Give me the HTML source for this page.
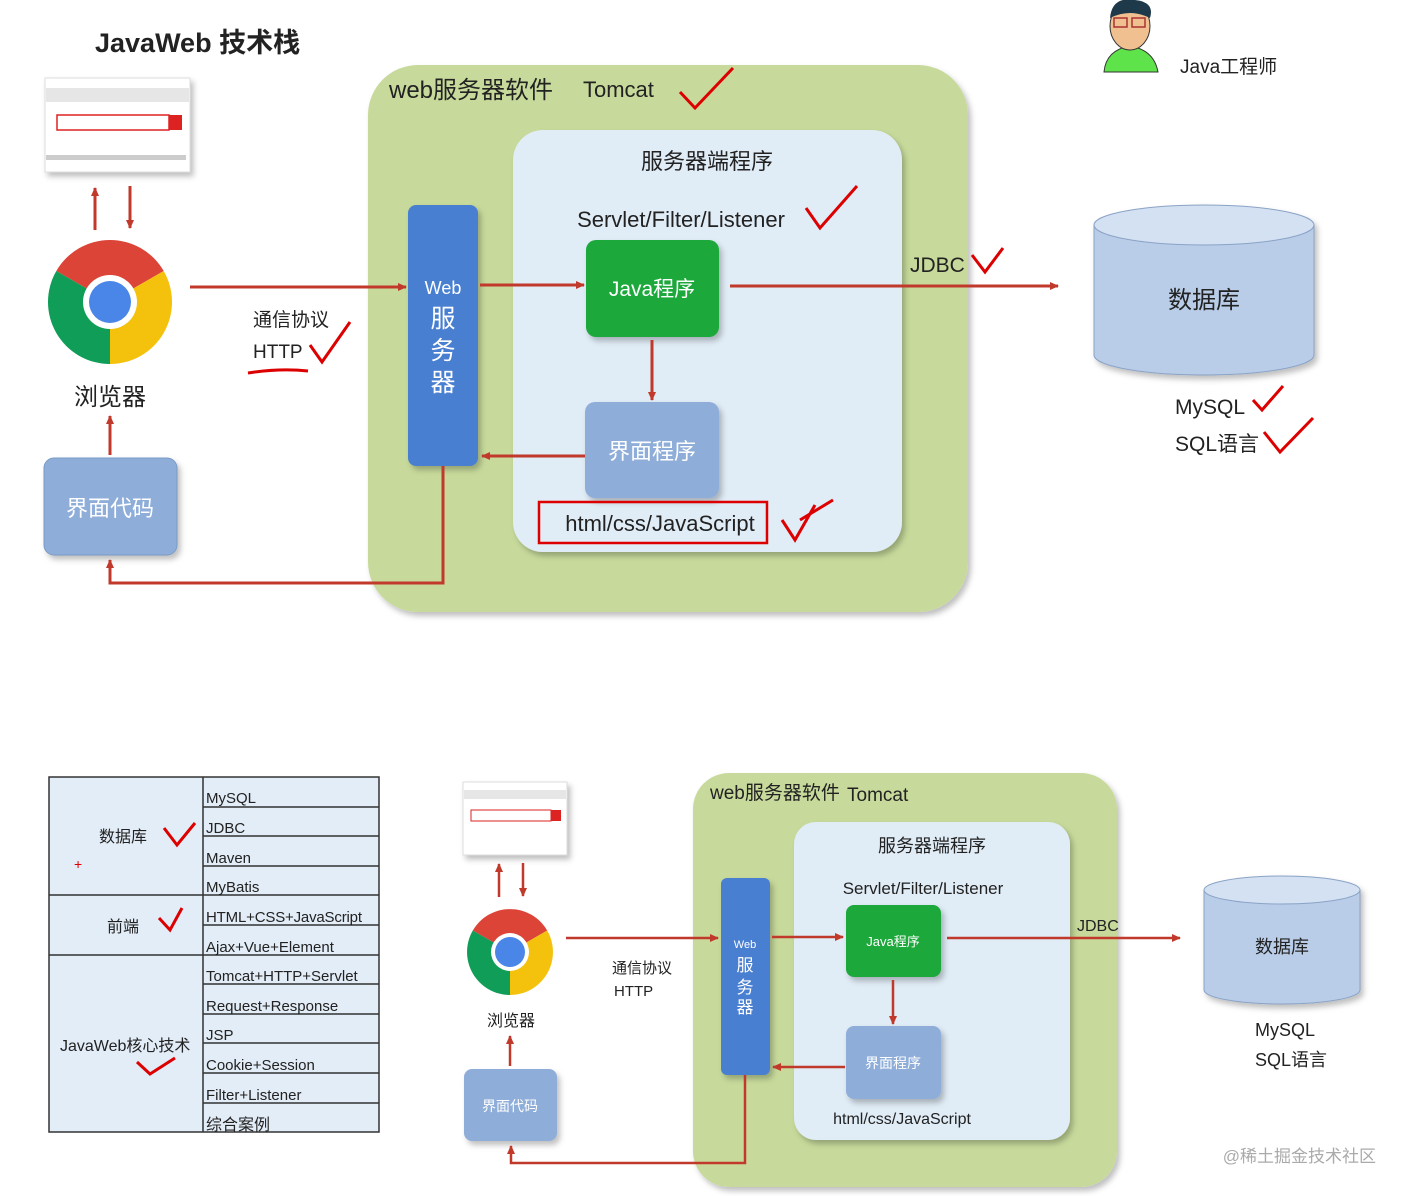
<!DOCTYPE html>
<html><head><meta charset="utf-8"><style>
html,body{margin:0;padding:0;background:#fff;}
svg{display:block;}
text{font-family:"Liberation Sans","Noto Sans CJK SC",sans-serif;}
</style></head><body>
<svg width="1407" height="1196" viewBox="0 0 1407 1196" xmlns="http://www.w3.org/2000/svg">
<defs>
<marker id="ar" markerWidth="10" markerHeight="10" refX="8" refY="5" orient="auto" markerUnits="userSpaceOnUse"><path d="M0,1 L9,5 L0,9 z" fill="#c0392b"/></marker>
<filter id="sh" x="-10%" y="-10%" width="130%" height="130%"><feDropShadow dx="3" dy="4" stdDeviation="3" flood-color="#000" flood-opacity="0.25"/></filter>
</defs>

<text x="95" y="52" font-size="27" font-weight="bold" fill="#222">JavaWeb 技术栈</text>

<g filter="url(#sh)">
<rect x="45" y="78" width="145" height="94" fill="#fff" stroke="#ddd"/>
</g>
<rect x="46" y="88" width="143" height="14" fill="#e6e6e6"/>
<rect x="57" y="115" width="112" height="15" fill="#fff" stroke="#d22" stroke-width="1.5"/>
<rect x="169" y="115" width="13" height="15" fill="#d22"/>
<rect x="46" y="155" width="140" height="5" fill="#ccc"/>

<line x1="95" y1="230" x2="95" y2="188" stroke="#c0392b" stroke-width="3" marker-end="url(#ar)"/>
<line x1="130" y1="186" x2="130" y2="228" stroke="#c0392b" stroke-width="3" marker-end="url(#ar)"/>

<g transform="translate(110,302)">
<path d="M0,0 L-53.7,-31 A62,62 0 0 1 53.7,-31 Z" fill="#db4437"/>
<path d="M0,0 L53.7,-31 A62,62 0 0 1 0,62 Z" fill="#f4c20d"/>
<path d="M0,0 L0,62 A62,62 0 0 1 -53.7,-31 Z" fill="#0f9d58"/>
<circle r="27" fill="#fff"/><circle r="21" fill="#4a86e8"/>
</g>
<text x="110" y="405" font-size="24" text-anchor="middle" fill="#222">浏览器</text>
<line x1="110" y1="455" x2="110" y2="416" stroke="#c0392b" stroke-width="3" marker-end="url(#ar)"/>
<rect x="44" y="458" width="133" height="97" rx="10" fill="#8eadd8" stroke="#7a9bc8" filter="url(#sh)"/>
<text x="110" y="516" font-size="22" text-anchor="middle" fill="#fff">界面代码</text>

<rect x="368" y="65" width="600" height="547" rx="50" fill="#c7da9b" filter="url(#sh)"/>
<text x="389" y="98" font-size="24" fill="#222">web服务器软件</text>
<text x="583" y="97" font-size="22" fill="#222">Tomcat</text>
<path d="M680,92 L695,108 L733,68" fill="none" stroke="#d00" stroke-width="3"/>

<rect x="513" y="130" width="389" height="422" rx="30" fill="#e0ecf6" filter="url(#sh)"/>
<text x="707" y="169" font-size="22" text-anchor="middle" fill="#222">服务器端程序</text>
<text x="681" y="227" font-size="22" text-anchor="middle" fill="#222">Servlet/Filter/Listener</text>
<path d="M806,208 L820,228 L857,186" fill="none" stroke="#d00" stroke-width="3"/>

<rect x="408" y="205" width="70" height="261" rx="8" fill="#4a7fd0" filter="url(#sh)"/>
<text x="443" y="294" font-size="18" text-anchor="middle" fill="#fff">Web</text>
<text x="443" y="327" font-size="25" text-anchor="middle" fill="#fff">服</text>
<text x="443" y="359" font-size="25" text-anchor="middle" fill="#fff">务</text>
<text x="443" y="391" font-size="25" text-anchor="middle" fill="#fff">器</text>

<rect x="586" y="240" width="133" height="97" rx="10" fill="#1aa83a" filter="url(#sh)"/>
<text x="652" y="296" font-size="21" text-anchor="middle" fill="#fff">Java程序</text>
<rect x="585" y="402" width="134" height="96" rx="10" fill="#8eadd8" filter="url(#sh)"/>
<text x="652" y="459" font-size="22" text-anchor="middle" fill="#fff">界面程序</text>
<rect x="539" y="502" width="228" height="41" fill="none" stroke="#d00" stroke-width="2.5"/>
<text x="660" y="531" font-size="22" text-anchor="middle" fill="#222">html/css/JavaScript</text>
<path d="M782,520 L795,540 L815,505 M800,520 L833,500" fill="none" stroke="#d00" stroke-width="3"/>

<line x1="190" y1="287" x2="406" y2="287" stroke="#c0392b" stroke-width="3" marker-end="url(#ar)"/>
<line x1="480" y1="285" x2="584" y2="285" stroke="#c0392b" stroke-width="3" marker-end="url(#ar)"/>
<line x1="730" y1="286" x2="1058" y2="286" stroke="#c0392b" stroke-width="3" marker-end="url(#ar)"/>
<line x1="652" y1="340" x2="652" y2="400" stroke="#c0392b" stroke-width="3" marker-end="url(#ar)"/>
<line x1="585" y1="456" x2="482" y2="456" stroke="#c0392b" stroke-width="3" marker-end="url(#ar)"/>
<polyline points="443,466 443,583 110,583 110,560" fill="none" stroke="#c0392b" stroke-width="3" marker-end="url(#ar)"/>

<text x="253" y="326" font-size="19" fill="#222">通信协议</text>
<text x="253" y="358" font-size="19" fill="#222">HTTP</text>
<path d="M310,345 L322,362 L350,322" fill="none" stroke="#d00" stroke-width="3"/>
<path d="M248,373 Q280,368 308,371" fill="none" stroke="#d00" stroke-width="3"/>
<text x="910" y="272" font-size="21" fill="#222">JDBC</text>
<path d="M972,255 L985,272 L1003,248" fill="none" stroke="#d00" stroke-width="3"/>

<g filter="url(#sh)">
<path d="M1094,225 L1094,355 A110,20 0 0 0 1314,355 L1314,225 Z" fill="#b9cde8" stroke="#8aa3c6"/>
<ellipse cx="1204" cy="225" rx="110" ry="20" fill="#d4e1f2" stroke="#8aa3c6"/>
</g>
<text x="1204" y="308" font-size="24" text-anchor="middle" fill="#222">数据库</text>
<text x="1175" y="414" font-size="21" fill="#222">MySQL</text>
<path d="M1253,400 L1262,410 L1283,386" fill="none" stroke="#d00" stroke-width="3"/>
<text x="1175" y="451" font-size="21" fill="#222">SQL语言</text>
<path d="M1264,432 L1280,452 L1313,418" fill="none" stroke="#d00" stroke-width="3"/>

<path d="M1104,72 Q1106,50 1130,46 Q1154,50 1158,72 Z" fill="#5ee34a" stroke="#333"/>
<ellipse cx="1130" cy="26" rx="20" ry="24" fill="#f0c090" stroke="#333"/>
<path d="M1110,18 Q1112,-4 1135,0 Q1155,2 1150,18 Q1130,8 1110,18 Z" fill="#1e3a4a"/>
<rect x="1114" y="18" width="13" height="9" fill="none" stroke="#a33" stroke-width="1.5"/>
<rect x="1132" y="18" width="13" height="9" fill="none" stroke="#a33" stroke-width="1.5"/>
<text x="1180" y="73" font-size="19" fill="#222">Java工程师</text>

<rect x="49" y="777" width="330" height="355" fill="#e3edf7" stroke="#333" stroke-width="1.5"/>
<line x1="203" y1="777" x2="203" y2="1132" stroke="#333" stroke-width="1.5"/>
<g stroke="#333" stroke-width="1.5">
<line x1="203" y1="807" x2="379" y2="807"/><line x1="203" y1="836" x2="379" y2="836"/>
<line x1="203" y1="866" x2="379" y2="866"/><line x1="49" y1="895" x2="379" y2="895"/>
<line x1="203" y1="925" x2="379" y2="925"/><line x1="49" y1="955" x2="379" y2="955"/>
<line x1="203" y1="984" x2="379" y2="984"/><line x1="203" y1="1014" x2="379" y2="1014"/>
<line x1="203" y1="1043" x2="379" y2="1043"/><line x1="203" y1="1073" x2="379" y2="1073"/>
<line x1="203" y1="1103" x2="379" y2="1103"/>
</g>
<g font-size="15" fill="#222">
<text x="206" y="803">MySQL</text><text x="206" y="833">JDBC</text>
<text x="206" y="863">Maven</text><text x="206" y="892">MyBatis</text>
<text x="206" y="922" textLength="156">HTML+CSS+JavaScript</text><text x="206" y="952">Ajax+Vue+Element</text>
<text x="206" y="981">Tomcat+HTTP+Servlet</text><text x="206" y="1011">Request+Response</text>
<text x="206" y="1040">JSP</text><text x="206" y="1070">Cookie+Session</text>
<text x="206" y="1100">Filter+Listener</text><text x="206" y="1130" font-size="16">综合案例</text>
<text x="99" y="842" font-size="16">数据库</text><text x="107" y="932" font-size="16">前端</text>
<text x="60" y="1051" font-size="16">JavaWeb核心技术</text>
</g>
<text x="74" y="869" font-size="14" fill="#d00">+</text>
<path d="M164,828 L177,845 L195,823" fill="none" stroke="#d00" stroke-width="3"/>
<path d="M159,918 L170,930 L182,908" fill="none" stroke="#d00" stroke-width="3"/>
<path d="M137,1062 L150,1074 L175,1058" fill="none" stroke="#d00" stroke-width="3"/>

<g filter="url(#sh)"><rect x="463" y="782" width="104" height="73" fill="#fff" stroke="#ddd"/></g>
<rect x="464" y="790" width="102" height="9" fill="#e6e6e6"/>
<rect x="471" y="810" width="80" height="11" fill="#fff" stroke="#d22"/>
<rect x="551" y="810" width="10" height="11" fill="#d22"/>
<line x1="499" y1="897" x2="499" y2="864" stroke="#c0392b" stroke-width="2.5" marker-end="url(#ar)"/>
<line x1="523" y1="863" x2="523" y2="896" stroke="#c0392b" stroke-width="2.5" marker-end="url(#ar)"/>
<g transform="translate(510,952)">
<path d="M0,0 L-37.2,-21.5 A43,43 0 0 1 37.2,-21.5 Z" fill="#db4437"/>
<path d="M0,0 L37.2,-21.5 A43,43 0 0 1 0,43 Z" fill="#f4c20d"/>
<path d="M0,0 L0,43 A43,43 0 0 1 -37.2,-21.5 Z" fill="#0f9d58"/>
<circle r="19" fill="#fff"/><circle r="15" fill="#4a86e8"/>
</g>
<text x="511" y="1026" font-size="16" text-anchor="middle" fill="#222">浏览器</text>
<line x1="510" y1="1066" x2="510" y2="1036" stroke="#c0392b" stroke-width="2.5" marker-end="url(#ar)"/>
<rect x="464" y="1069" width="93" height="72" rx="8" fill="#8eadd8" filter="url(#sh)"/>
<text x="510" y="1111" font-size="14" text-anchor="middle" fill="#fff">界面代码</text>

<rect x="693" y="773" width="424" height="414" rx="36" fill="#c7da9b" filter="url(#sh)"/>
<text x="710" y="799" font-size="19" fill="#222">web服务器软件</text>
<text x="847" y="801" font-size="19" fill="#222">Tomcat</text>
<rect x="794" y="822" width="276" height="318" rx="22" fill="#e0ecf6" filter="url(#sh)"/>
<text x="932" y="852" font-size="18" text-anchor="middle" fill="#222">服务器端程序</text>
<text x="923" y="894" font-size="17" text-anchor="middle" fill="#222">Servlet/Filter/Listener</text>
<rect x="721" y="878" width="49" height="197" rx="6" fill="#4a7fd0" filter="url(#sh)"/>
<text x="745" y="948" font-size="11" text-anchor="middle" fill="#fff">Web</text>
<text x="745" y="971" font-size="17" text-anchor="middle" fill="#fff">服</text>
<text x="745" y="993" font-size="17" text-anchor="middle" fill="#fff">务</text>
<text x="745" y="1013" font-size="17" text-anchor="middle" fill="#fff">器</text>
<rect x="846" y="905" width="95" height="72" rx="8" fill="#1aa83a" filter="url(#sh)"/>
<text x="893" y="946" font-size="13" text-anchor="middle" fill="#fff">Java程序</text>
<rect x="846" y="1026" width="95" height="73" rx="8" fill="#8eadd8" filter="url(#sh)"/>
<text x="893" y="1068" font-size="14" text-anchor="middle" fill="#fff">界面程序</text>
<text x="902" y="1124" font-size="16" text-anchor="middle" fill="#222">html/css/JavaScript</text>

<line x1="566" y1="938" x2="718" y2="938" stroke="#c0392b" stroke-width="2.5" marker-end="url(#ar)"/>
<line x1="772" y1="937" x2="843" y2="937" stroke="#c0392b" stroke-width="2.5" marker-end="url(#ar)"/>
<line x1="947" y1="938" x2="1180" y2="938" stroke="#c0392b" stroke-width="2.5" marker-end="url(#ar)"/>
<line x1="893" y1="980" x2="893" y2="1024" stroke="#c0392b" stroke-width="2.5" marker-end="url(#ar)"/>
<line x1="845" y1="1067" x2="773" y2="1067" stroke="#c0392b" stroke-width="2.5" marker-end="url(#ar)"/>
<polyline points="745,1075 745,1163 511,1163 511,1146" fill="none" stroke="#c0392b" stroke-width="2.5" marker-end="url(#ar)"/>

<text x="612" y="973" font-size="15" fill="#222">通信协议</text>
<text x="614" y="996" font-size="15" fill="#222">HTTP</text>
<text x="1077" y="931" font-size="16" fill="#222">JDBC</text>

<g filter="url(#sh)">
<path d="M1204,890 L1204,990 A78,14 0 0 0 1360,990 L1360,890 Z" fill="#b9cde8" stroke="#8aa3c6"/>
<ellipse cx="1282" cy="890" rx="78" ry="14" fill="#d4e1f2" stroke="#8aa3c6"/>
</g>
<text x="1282" y="953" font-size="18" text-anchor="middle" fill="#222">数据库</text>
<text x="1255" y="1036" font-size="18" fill="#222">MySQL</text>
<text x="1255" y="1066" font-size="18" fill="#222">SQL语言</text>

<text x="1376" y="1162" font-size="17" text-anchor="end" fill="#aaa">@稀土掘金技术社区</text>
</svg>
</body></html>
